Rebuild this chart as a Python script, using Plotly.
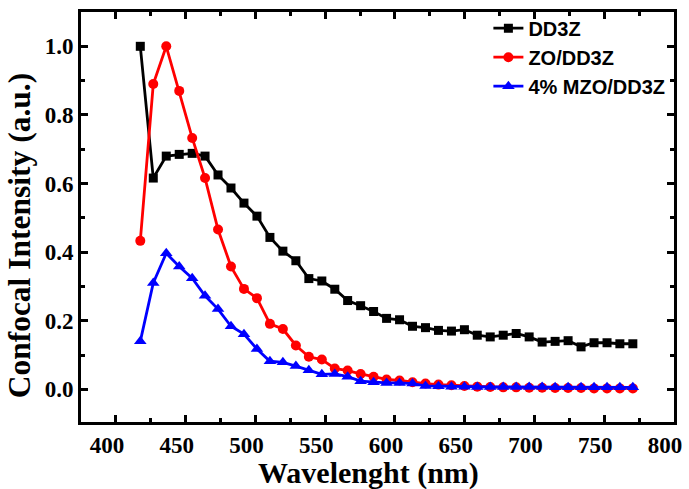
import plotly.graph_objects as go

wavelength = [417.5, 426.8, 436.1, 445.4, 454.7, 463.9, 473.2, 482.5, 491.8, 501.1,
              510.4, 519.7, 529.0, 538.3, 547.6, 556.9, 566.1, 575.4, 584.7, 594.0,
              603.3, 612.6, 621.9, 631.2, 640.5, 649.8, 659.0, 668.3, 677.6, 686.9,
              696.2, 705.5, 714.8, 724.1, 733.4, 742.7, 752.0, 761.2, 770.5]

dd3z = [1.000, 0.616, 0.680, 0.685, 0.688, 0.680, 0.625, 0.587, 0.543, 0.505,
        0.443, 0.403, 0.375, 0.323, 0.316, 0.292, 0.259, 0.244, 0.227, 0.207,
        0.203, 0.184, 0.180, 0.172, 0.170, 0.174, 0.158, 0.153, 0.158, 0.163,
        0.153, 0.138, 0.140, 0.142, 0.124, 0.136, 0.136, 0.133, 0.133]

zo_dd3z = [0.433, 0.890, 1.000, 0.870, 0.733, 0.616, 0.466, 0.358, 0.293, 0.266,
           0.191, 0.176, 0.128, 0.095, 0.087, 0.061, 0.055, 0.045, 0.037, 0.029,
           0.026, 0.021, 0.017, 0.014, 0.012, 0.010, 0.008, 0.007, 0.006, 0.006,
           0.005, 0.005, 0.004, 0.004, 0.004, 0.003, 0.003, 0.003, 0.003]

mzo_dd3z = [0.140, 0.310, 0.397, 0.358, 0.324, 0.273, 0.234, 0.184, 0.161, 0.118,
            0.082, 0.079, 0.068, 0.056, 0.044, 0.045, 0.037, 0.024, 0.021, 0.019,
            0.019, 0.017, 0.010, 0.009, 0.008, 0.008, 0.007, 0.007, 0.007, 0.007,
            0.007, 0.007, 0.006, 0.006, 0.006, 0.006, 0.006, 0.006, 0.006]

names = ["DD3Z", "ZO/DD3Z", "4% MZO/DD3Z"]
x_ticks = [400, 450, 500, 550, 600, 650, 700, 750, 800]
y_ticks = [0.0, 0.2, 0.4, 0.6, 0.8, 1.0]

serif = "Liberation Serif"
sans = "Liberation Sans"

fig = go.Figure()
fig.add_trace(go.Scatter(x=wavelength, y=dd3z, name=names[0], mode="lines+markers",
                         line=dict(color="black", width=2.8),
                         marker=dict(symbol="square", size=9, color="black")))
fig.add_trace(go.Scatter(x=wavelength, y=zo_dd3z, name=names[1], mode="lines+markers",
                         line=dict(color="#ff0000", width=2.8),
                         marker=dict(symbol="circle", size=10, color="#ff0000")))
fig.add_trace(go.Scatter(x=wavelength, y=mzo_dd3z, name=names[2], mode="lines+markers",
                         line=dict(color="#0000ff", width=2.8),
                         marker=dict(symbol="triangle-up", size=11, color="#0000ff")))

axis_common = dict(showline=True, linecolor="black", linewidth=3, mirror="ticks",
                   ticks="inside", tickwidth=3, ticklen=7, tickcolor="black",
                   showgrid=False, zeroline=False,
                   tickfont=dict(family=serif, size=23, color="black", weight="bold"))

fig.update_layout(
    width=689, height=489,
    margin=dict(l=81, r=7, t=12, b=67),
    plot_bgcolor="white", paper_bgcolor="white",
    xaxis=dict(range=[375, 800], tickvals=x_ticks, ticklabelshift=-9,
               minor=dict(dtick=25, tick0=375, ticks="inside", ticklen=4, tickwidth=3, tickcolor="black"),
               **axis_common),
    yaxis=dict(range=[-0.095, 1.1], tickvals=y_ticks, tickformat=".1f",
               minor=dict(dtick=0.1, tick0=0, ticks="inside", ticklen=4, tickwidth=3, tickcolor="black"),
               **axis_common),
    legend=dict(x=0.687, y=1.008, xanchor="left", yanchor="top",
                bgcolor="rgba(0,0,0,0)", borderwidth=0,
                font=dict(family=sans, size=20, color="black", weight="bold")),
    annotations=[
        dict(text="Wavelenght (nm)", xref="paper", yref="paper", x=0.484, y=-0.124,
             xanchor="center", yanchor="middle", showarrow=False,
             font=dict(family=serif, size=30, color="black", weight="bold")),
        dict(text="Confocal Intensity (a.u.)", xref="paper", yref="paper", x=-0.104, y=0.456,
             xanchor="center", yanchor="middle", showarrow=False, textangle=-90,
             font=dict(family=serif, size=31.5, color="black", weight="bold")),
    ],
)

fig.write_html("out.html")
